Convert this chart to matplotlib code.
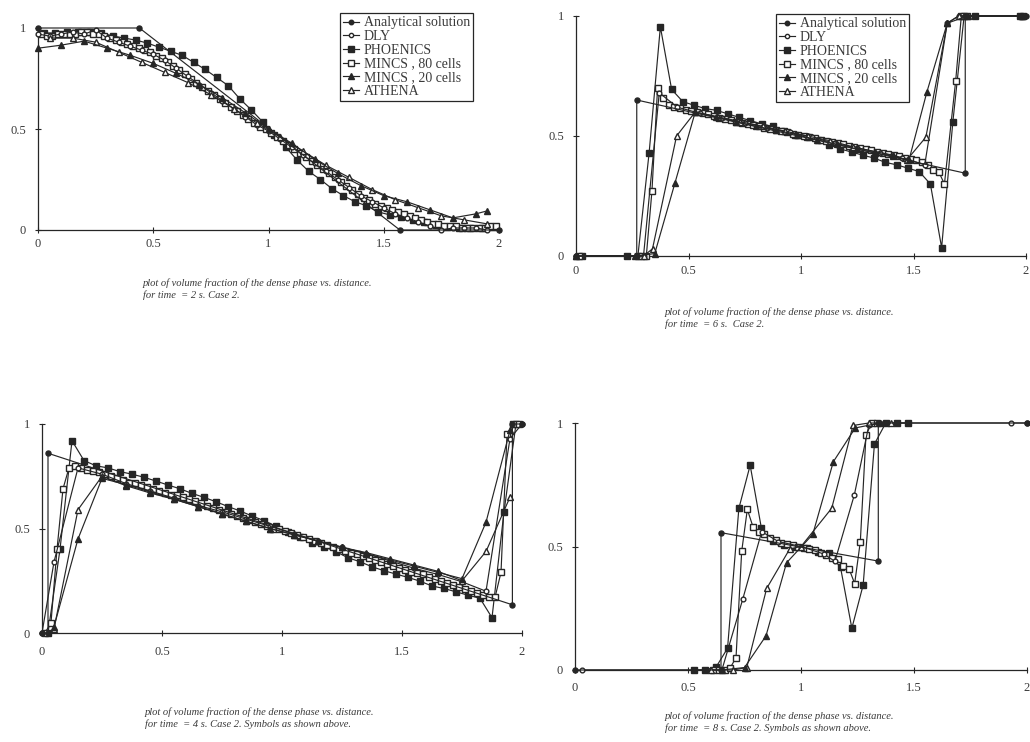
import matplotlib
matplotlib.use("Agg")
import matplotlib.pyplot as plt

plt.rcParams['font.family'] = ['Liberation Serif', 'DejaVu Serif']

LABELS = ["Analytical solution", "DLY", "PHOENICS", "MINCS , 80 cells", "MINCS , 20 cells", "ATHENA"]
X_TICKS = [0, 0.5, 1, 1.5, 2]
X_TICK_LABELS = ["0", "0.5", "1", "1.5", "2"]
Y_TICKS = [0, 0.5, 1]
Y_TICK_LABELS = ["0", "0.5", "1"]

CAPTION_1 = "plot of volume fraction of the dense phase vs. distance."
CAPTION_2S = "for time  = 2 s. Case 2."
CAPTION_6S = "for time  = 6 s.  Case 2."
CAPTION_4S = "for time  = 4 s. Case 2. Symbols as shown above."
CAPTION_8S = "for time  = 8 s. Case 2. Symbols as shown above."

# cell-centre grids
cells40_x = [0.025, 0.075, 0.125, 0.175, 0.225, 0.275, 0.325, 0.375, 0.425, 0.475,
             0.525, 0.575, 0.625, 0.675, 0.725, 0.775, 0.825, 0.875, 0.925, 0.975,
             1.025, 1.075, 1.125, 1.175, 1.225, 1.275, 1.325, 1.375, 1.425, 1.475,
             1.525, 1.575, 1.625, 1.675, 1.725, 1.775, 1.825, 1.875, 1.925, 1.975]
cells80_x = [0.0125, 0.0375, 0.0625, 0.0875, 0.1125, 0.1375, 0.1625, 0.1875, 0.2125, 0.2375,
             0.2625, 0.2875, 0.3125, 0.3375, 0.3625, 0.3875, 0.4125, 0.4375, 0.4625, 0.4875,
             0.5125, 0.5375, 0.5625, 0.5875, 0.6125, 0.6375, 0.6625, 0.6875, 0.7125, 0.7375,
             0.7625, 0.7875, 0.8125, 0.8375, 0.8625, 0.8875, 0.9125, 0.9375, 0.9625, 0.9875,
             1.0125, 1.0375, 1.0625, 1.0875, 1.1125, 1.1375, 1.1625, 1.1875, 1.2125, 1.2375,
             1.2625, 1.2875, 1.3125, 1.3375, 1.3625, 1.3875, 1.4125, 1.4375, 1.4625, 1.4875,
             1.5125, 1.5375, 1.5625, 1.5875, 1.6125, 1.6375, 1.6625, 1.6875, 1.7125, 1.7375,
             1.7625, 1.7875, 1.8125, 1.8375, 1.8625, 1.8875, 1.9125, 1.9375, 1.9625, 1.9875]

# ---------------- t = 2 s ----------------
t2_analytical_x = [0.0, 0.44, 1.57, 2.0]
t2_analytical_y = [1.0, 1.0, 0.0, 0.0]
t2_dly_x = [0.0, 0.05, 0.1, 0.15, 0.2, 0.25, 0.3, 0.35, 0.4, 0.45, 0.5, 0.55, 0.6, 0.65, 0.7, 0.75,
            0.8, 0.85, 0.9, 0.95, 1.0, 1.05, 1.1, 1.15, 1.2, 1.25, 1.3, 1.35, 1.4, 1.45, 1.5, 1.55,
            1.6, 1.65, 1.7, 1.75, 1.8, 1.85, 1.9, 1.95]
t2_dly_y = [0.97, 0.96, 0.97, 0.98, 0.97, 0.99, 0.95, 0.93, 0.91, 0.89, 0.87, 0.84, 0.80, 0.76, 0.72, 0.68,
            0.64, 0.60, 0.56, 0.52, 0.49, 0.45, 0.41, 0.37, 0.33, 0.29, 0.25, 0.21, 0.17, 0.14, 0.11, 0.08,
            0.06, 0.04, 0.02, 0.0, 0.01, 0.01, 0.01, 0.0]
t2_phoenics_y = [0.975, 0.975, 0.98, 0.98, 0.98, 0.975, 0.96, 0.95, 0.94, 0.925,
                 0.905, 0.885, 0.865, 0.83, 0.795, 0.755, 0.715, 0.65, 0.595, 0.535,
                 0.47, 0.41, 0.345, 0.29, 0.25, 0.205, 0.17, 0.14, 0.12, 0.09,
                 0.075, 0.063, 0.05, 0.04, 0.025, 0.017, 0.012, 0.008, 0.008, 0.017]
t2_mincs80_y = [0.97, 0.96, 0.96, 0.97, 0.97, 0.97, 0.97, 0.98, 0.98, 0.97,
                0.97, 0.96, 0.95, 0.94, 0.93, 0.92, 0.91, 0.90, 0.89, 0.88,
                0.86, 0.85, 0.83, 0.81, 0.79, 0.77, 0.75, 0.73, 0.71, 0.69,
                0.67, 0.65, 0.63, 0.61, 0.59, 0.57, 0.55, 0.53, 0.51, 0.50,
                0.48, 0.46, 0.44, 0.42, 0.40, 0.38, 0.36, 0.34, 0.32, 0.30,
                0.28, 0.26, 0.24, 0.22, 0.20, 0.18, 0.16, 0.15, 0.13, 0.12,
                0.11, 0.10, 0.09, 0.08, 0.07, 0.06, 0.05, 0.04, 0.03, 0.03,
                0.02, 0.02, 0.02, 0.01, 0.01, 0.01, 0.01, 0.01, 0.02, 0.02]
t2_mincs20_x = [0.0, 0.1, 0.2, 0.3, 0.4, 0.5, 0.6, 0.7, 0.8, 0.9, 1.0, 1.1, 1.2, 1.3, 1.4, 1.5,
                1.6, 1.7, 1.8, 1.9, 1.95]
t2_mincs20_y = [0.9, 0.915, 0.935, 0.9, 0.865, 0.825, 0.775, 0.72, 0.655, 0.58, 0.5, 0.43, 0.35, 0.28,
                0.22, 0.17, 0.14, 0.1, 0.06, 0.08, 0.095]
t2_athena_x = [0.05, 0.15, 0.25, 0.35, 0.45, 0.55, 0.65, 0.75, 0.85, 0.95, 1.05, 1.15, 1.25, 1.35,
               1.45, 1.55, 1.65, 1.75, 1.85, 1.95]
t2_athena_y = [0.95, 0.95, 0.93, 0.88, 0.83, 0.78, 0.73, 0.67, 0.6, 0.53, 0.46, 0.39, 0.32, 0.26,
               0.2, 0.15, 0.11, 0.07, 0.05, 0.03]

# ---------------- t = 6 s ----------------
t6_analytical_x = [0.0, 0.27, 0.27, 1.73, 1.73, 2.0]
t6_analytical_y = [0.0, 0.0, 0.65, 0.345, 1.0, 1.0]
t6_dly_x = [0.0, 0.3, 0.37, 0.45, 0.55, 0.65, 0.75, 0.85, 0.95, 1.05, 1.15, 1.25, 1.35, 1.45, 1.55,
            1.65, 1.7, 1.98]
t6_dly_y = [0.0, 0.0, 0.68, 0.62, 0.595, 0.575, 0.555, 0.535, 0.515, 0.495, 0.47, 0.45, 0.43, 0.41,
            0.38, 0.97, 1.0, 1.0]
t6_phoenics_x = [0.025, 0.225, 0.275, 0.325, 0.375, 0.425, 0.475, 0.525, 0.575, 0.625, 0.675, 0.725,
                 0.775, 0.825, 0.875, 0.925, 0.975, 1.025, 1.075, 1.125, 1.175, 1.225, 1.275, 1.325,
                 1.375, 1.425, 1.475, 1.525, 1.575, 1.625, 1.675, 1.725, 1.775, 1.975]
t6_phoenics_y = [0.0, 0.0, 0.0, 0.43, 0.955, 0.694, 0.643, 0.628, 0.614, 0.607, 0.592, 0.578,
                 0.564, 0.55, 0.54, 0.52, 0.506, 0.495, 0.482, 0.463, 0.446, 0.433, 0.42, 0.408,
                 0.39, 0.38, 0.366, 0.352, 0.30, 0.035, 0.56, 1.0, 1.0, 1.0]
t6_mincs80_x = [0.0125, 0.2875, 0.3125, 0.3375, 0.3625, 0.3875, 0.4125, 0.4375, 0.4625, 0.4875,
                0.5125, 0.5375, 0.5625, 0.5875, 0.6125, 0.6375, 0.6625, 0.6875, 0.7125, 0.7375,
                0.7625, 0.7875, 0.8125, 0.8375, 0.8625, 0.8875, 0.9125, 0.9375, 0.9625, 0.9875,
                1.0125, 1.0375, 1.0625, 1.0875, 1.1125, 1.1375, 1.1625, 1.1875, 1.2125, 1.2375,
                1.2625, 1.2875, 1.3125, 1.3375, 1.3625, 1.3875, 1.4125, 1.4375, 1.4625, 1.4875,
                1.5125, 1.5375, 1.5625, 1.5875, 1.6125, 1.6375, 1.6875, 1.7125, 1.7375, 1.9875]
t6_mincs80_y = [0.0, 0.0, 0.0, 0.27, 0.70, 0.66, 0.63, 0.62, 0.615, 0.61,
                0.605, 0.60, 0.595, 0.59, 0.585, 0.575, 0.57, 0.565, 0.56, 0.555,
                0.55, 0.545, 0.54, 0.535, 0.53, 0.525, 0.52, 0.515, 0.51, 0.505,
                0.50, 0.495, 0.49, 0.485, 0.48, 0.475, 0.47, 0.465, 0.46, 0.455,
                0.45, 0.445, 0.44, 0.435, 0.43, 0.425, 0.42, 0.415, 0.41, 0.405,
                0.40, 0.39, 0.38, 0.36, 0.35, 0.30, 0.73, 1.0, 1.0, 1.0]
t6_mincs20_x = [0.0, 0.26, 0.35, 0.44, 0.53, 0.62, 0.71, 0.8, 0.89, 0.98, 1.07, 1.16, 1.25, 1.33,
                1.41, 1.48, 1.56, 1.65, 1.74, 1.98]
t6_mincs20_y = [0.0, 0.0, 0.01, 0.305, 0.6, 0.58, 0.56, 0.54, 0.525, 0.505, 0.485, 0.465, 0.445,
                0.43, 0.415, 0.40, 0.685, 0.97, 1.0, 1.0]
t6_athena_x = [0.0, 0.3, 0.34, 0.447, 0.53, 0.63, 0.73, 0.83, 0.93, 1.03, 1.13, 1.23, 1.33, 1.41,
               1.47, 1.555, 1.65, 1.7, 1.98]
t6_athena_y = [0.0, 0.0, 0.03, 0.5, 0.6, 0.58, 0.56, 0.54, 0.52, 0.5, 0.48, 0.455, 0.435, 0.42,
               0.40, 0.495, 0.97, 1.0, 1.0]

# ---------------- t = 4 s ----------------
t4_analytical_x = [0.0, 0.025, 0.025, 1.96, 1.96, 2.0]
t4_analytical_y = [0.0, 0.0, 0.86, 0.135, 1.0, 1.0]
t4_dly_x = [0.0, 0.05, 0.15, 0.25, 0.35, 0.45, 0.55, 0.65, 0.75, 0.85, 0.95, 1.05, 1.15, 1.25,
            1.35, 1.45, 1.55, 1.65, 1.75, 1.85, 1.95, 2.0]
t4_dly_y = [0.0, 0.34, 0.79, 0.76, 0.715, 0.68, 0.645, 0.61, 0.58, 0.545, 0.51, 0.475, 0.44, 0.41,
            0.38, 0.345, 0.31, 0.28, 0.245, 0.20, 0.93, 1.0]
t4_phoenics_y = [0.0, 0.40, 0.92, 0.825, 0.80, 0.79, 0.772, 0.76, 0.745, 0.727,
                 0.708, 0.69, 0.668, 0.649, 0.628, 0.605, 0.584, 0.56, 0.538, 0.51,
                 0.485, 0.46, 0.432, 0.413, 0.389, 0.36, 0.341, 0.317, 0.298, 0.282,
                 0.266, 0.248, 0.225, 0.213, 0.197, 0.181, 0.166, 0.073, 0.58, 1.0]
t4_mincs80_y = [0.0, 0.05, 0.40, 0.69, 0.79, 0.80, 0.79, 0.78, 0.775, 0.77,
                0.76, 0.75, 0.74, 0.73, 0.72, 0.72, 0.71, 0.70, 0.69, 0.68,
                0.67, 0.66, 0.66, 0.65, 0.64, 0.63, 0.62, 0.61, 0.60, 0.59,
                0.58, 0.57, 0.56, 0.55, 0.54, 0.53, 0.52, 0.51, 0.50, 0.50,
                0.49, 0.48, 0.47, 0.46, 0.45, 0.44, 0.43, 0.42, 0.41, 0.40,
                0.39, 0.385, 0.38, 0.37, 0.36, 0.35, 0.34, 0.33, 0.32, 0.31,
                0.30, 0.29, 0.285, 0.28, 0.27, 0.26, 0.25, 0.24, 0.23, 0.22,
                0.21, 0.20, 0.19, 0.18, 0.17, 0.17, 0.29, 0.95, 1.0, 1.0]
t4_mincs20_x = [0.05, 0.15, 0.25, 0.35, 0.45, 0.55, 0.65, 0.75, 0.85, 0.95, 1.05, 1.15, 1.25,
                1.35, 1.45, 1.55, 1.65, 1.75, 1.85, 1.95]
t4_mincs20_y = [0.03, 0.45, 0.74, 0.71, 0.675, 0.64, 0.605, 0.57, 0.535, 0.5, 0.47, 0.44, 0.41,
                0.38, 0.35, 0.32, 0.29, 0.26, 0.53, 0.97]
t4_athena_x = [0.05, 0.15, 0.25, 0.35, 0.45, 0.55, 0.65, 0.75, 0.85, 0.95, 1.05, 1.15, 1.25,
               1.35, 1.45, 1.55, 1.65, 1.75, 1.85, 1.95]
t4_athena_y = [0.02, 0.59, 0.75, 0.705, 0.67, 0.64, 0.605, 0.57, 0.535, 0.5, 0.47, 0.44, 0.41,
               0.385, 0.355, 0.325, 0.295, 0.25, 0.39, 0.65]

# ---------------- t = 8 s ----------------
t8_analytical_x = [0.0, 0.646, 0.646, 1.342, 1.342, 2.0]
t8_analytical_y = [0.0, 0.0, 0.556, 0.441, 1.0, 1.0]
t8_dly_x = [0.03, 0.65, 0.742, 0.826, 0.9, 1.0, 1.1, 1.15, 1.236, 1.3, 1.35, 1.93, 2.0]
t8_dly_y = [0.0, 0.0, 0.286, 0.56, 0.52, 0.5, 0.47, 0.44, 0.709, 0.99, 1.0, 1.0, 1.0]
t8_phoenics_x = [0.525, 0.575, 0.625, 0.675, 0.725, 0.775, 0.825, 0.875, 0.925, 0.975,
                 1.025, 1.075, 1.125, 1.175, 1.225, 1.275, 1.325, 1.375, 1.425, 1.475]
t8_phoenics_y = [0.0, 0.0, 0.013, 0.088, 0.654, 0.829, 0.573, 0.522, 0.506, 0.5,
                 0.493, 0.479, 0.472, 0.415, 0.169, 0.344, 0.915, 1.0, 1.0, 1.0]
t8_mincs80_x = [0.6125, 0.6375, 0.6625, 0.6875, 0.7125, 0.7375, 0.7625, 0.7875, 0.8125, 0.8375,
                0.8625, 0.8875, 0.9125, 0.9375, 0.9625, 0.9875, 1.0125, 1.0375, 1.0625, 1.0875,
                1.1125, 1.1375, 1.1625, 1.1875, 1.2125, 1.2375, 1.2625, 1.2875, 1.3125, 1.3375]
t8_mincs80_y = [0.0, 0.0, 0.0, 0.01, 0.05, 0.48, 0.65, 0.58, 0.56, 0.55,
                0.535, 0.525, 0.515, 0.51, 0.505, 0.5, 0.495, 0.49, 0.485, 0.475,
                0.465, 0.455, 0.45, 0.42, 0.41, 0.35, 0.52, 0.95, 1.0, 1.0]
t8_mincs20_x = [0.65, 0.75, 0.845, 0.936, 1.052, 1.143, 1.24, 1.35]
t8_mincs20_y = [0.0, 0.01, 0.138, 0.434, 0.549, 0.843, 0.98, 1.0]
t8_athena_x = [0.6, 0.7, 0.76, 0.848, 0.95, 1.0, 1.136, 1.23, 1.3, 1.4]
t8_athena_y = [0.0, 0.0, 0.01, 0.33, 0.49, 0.5, 0.655, 0.99, 1.0, 1.0]

LINE_C = "#262626"
TEXT_C = "#3a3a3a"
STYLES = [
    dict(marker="o", ms=3.6, mfc=LINE_C, mec=LINE_C),      # analytical
    dict(marker="o", ms=3.4, mfc="white", mec=LINE_C),     # DLY
    dict(marker="s", ms=4.4, mfc=LINE_C, mec=LINE_C),      # PHOENICS
    dict(marker="s", ms=4.6, mfc="white", mec=LINE_C),     # MINCS 80
    dict(marker="^", ms=4.6, mfc=LINE_C, mec=LINE_C),      # MINCS 20
    dict(marker="^", ms=4.6, mfc="white", mec=LINE_C),     # ATHENA
]

fig = plt.figure(figsize=(10.30, 7.42), dpi=100)
W, H = 1030.0, 742.0


def make_axes(left, right, top, bottom):
    return fig.add_axes([left / W, 1 - bottom / H, (right - left) / W, (bottom - top) / H])


def style_axes(ax, xpad):
    ax.set_xlim(0, 2)
    ax.set_ylim(0, 1)
    for s in ("top", "right"):
        ax.spines[s].set_visible(False)
    for s in ("left", "bottom"):
        ax.spines[s].set_color(LINE_C)
        ax.spines[s].set_linewidth(0.9)
    ax.set_xticks(X_TICKS)
    ax.set_xticklabels(X_TICK_LABELS)
    ax.set_yticks(Y_TICKS)
    ax.set_yticklabels(Y_TICK_LABELS)
    ax.tick_params(axis="both", direction="inout", length=5, width=0.8, color=LINE_C,
                   labelsize=9, labelcolor=TEXT_C)
    ax.tick_params(axis="x", pad=xpad)
    ax.tick_params(axis="y", pad=6)
    ax.patch.set_alpha(0)


def draw(ax, series):
    order = [2, 3, 1, 5, 4, 0]
    drawn = {}
    for i in order:
        xs, ys = series[i]
        ln, = ax.plot(xs, ys, color=LINE_C, lw=0.85, clip_on=False, label=LABELS[i],
                      zorder=3 + (1 if i == 0 else 0), **STYLES[i])
        drawn[i] = ln
    return [drawn[i] for i in range(6)]


panels = [
    dict(box=(38, 499, 28, 230), xpad=3, legend=(340, 13),
         caption=(143, 283, CAPTION_2S),
         series=[(t2_analytical_x, t2_analytical_y), (t2_dly_x, t2_dly_y),
                 (cells40_x, t2_phoenics_y), (cells80_x, t2_mincs80_y),
                 (t2_mincs20_x, t2_mincs20_y), (t2_athena_x, t2_athena_y)]),
    dict(box=(576, 1026, 16, 256), xpad=4, legend=(776, 14),
         caption=(665, 312, CAPTION_6S),
         series=[(t6_analytical_x, t6_analytical_y), (t6_dly_x, t6_dly_y),
                 (t6_phoenics_x, t6_phoenics_y), (t6_mincs80_x, t6_mincs80_y),
                 (t6_mincs20_x, t6_mincs20_y), (t6_athena_x, t6_athena_y)]),
    dict(box=(42, 522, 424, 633), xpad=7, legend=None,
         caption=(145, 712, CAPTION_4S),
         series=[(t4_analytical_x, t4_analytical_y), (t4_dly_x, t4_dly_y),
                 (cells40_x, t4_phoenics_y), (cells80_x, t4_mincs80_y),
                 (t4_mincs20_x, t4_mincs20_y), (t4_athena_x, t4_athena_y)]),
    dict(box=(575, 1027, 423, 670), xpad=6, legend=None,
         caption=(665, 716, CAPTION_8S),
         series=[(t8_analytical_x, t8_analytical_y), (t8_dly_x, t8_dly_y),
                 (t8_phoenics_x, t8_phoenics_y), (t8_mincs80_x, t8_mincs80_y),
                 (t8_mincs20_x, t8_mincs20_y), (t8_athena_x, t8_athena_y)]),
]

for p in panels:
    l, r, t, b = p["box"]
    ax = make_axes(l, r, t, b)
    style_axes(ax, p["xpad"])
    handles = draw(ax, p["series"])
    if p["legend"] is not None:
        lx, ly = p["legend"]
        leg = ax.legend(handles=handles, labels=LABELS, loc="upper left",
                        bbox_to_anchor=(lx / W, 1 - ly / H), bbox_transform=fig.transFigure,
                        borderaxespad=0, fontsize=10, handlelength=1.1, handletextpad=0.35,
                        borderpad=0.25, labelspacing=0.05, fancybox=False, framealpha=1,
                        edgecolor=LINE_C, markerscale=0.9)
        leg.get_frame().set_linewidth(0.9)
        for txt in leg.get_texts():
            txt.set_color(TEXT_C)
    cx, cy, line2 = p["caption"]
    fig.text(cx / W, 1 - cy / H, CAPTION_1, fontsize=7.6, style="italic", color=TEXT_C,
             ha="left", va="center")
    fig.text(cx / W, 1 - (cy + 12) / H, line2, fontsize=7.6, style="italic", color=TEXT_C,
             ha="left", va="center")

fig.savefig("out.png", dpi=100)
